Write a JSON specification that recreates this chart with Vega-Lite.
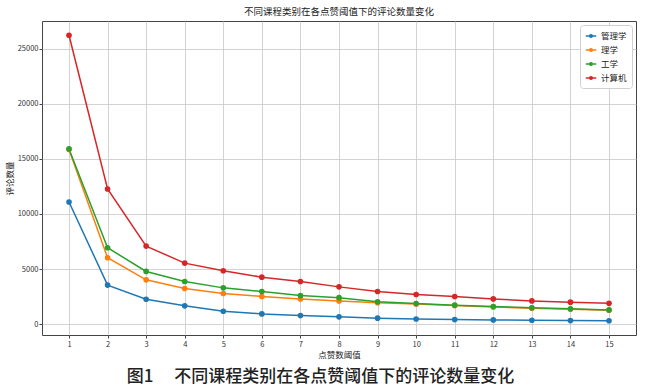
{
  "$schema": "https://vega.github.io/schema/vega-lite/v6.json",
  "padding": {"left": 4, "top": 6, "right": 8, "bottom": 2},
  "background": "white",
  "title": {
    "text": "图1　 不同课程类别在各点赞阈值下的评论数量变化",
    "orient": "bottom",
    "anchor": "middle",
    "font": "Noto Sans CJK SC",
    "fontSize": 17,
    "fontWeight": 500,
    "color": "#222",
    "offset": 9
  },
  "vconcat": [
    {
      "title": {
        "text": "不同课程类别在各点赞阈值下的评论数量变化",
        "font": "Noto Sans CJK SC",
        "fontSize": 9.5,
        "fontWeight": "normal",
        "color": "#222",
        "anchor": "middle",
        "offset": 5
      },
      "width": 594,
      "height": 314,
      "data": {
        "values": [
          {"category": "管理学", "threshold": 1, "count": 11090},
          {"category": "管理学", "threshold": 2, "count": 3550},
          {"category": "管理学", "threshold": 3, "count": 2270},
          {"category": "管理学", "threshold": 4, "count": 1670},
          {"category": "管理学", "threshold": 5, "count": 1180},
          {"category": "管理学", "threshold": 6, "count": 940},
          {"category": "管理学", "threshold": 7, "count": 790},
          {"category": "管理学", "threshold": 8, "count": 670},
          {"category": "管理学", "threshold": 9, "count": 550},
          {"category": "管理学", "threshold": 10, "count": 480},
          {"category": "管理学", "threshold": 11, "count": 420},
          {"category": "管理学", "threshold": 12, "count": 390},
          {"category": "管理学", "threshold": 13, "count": 360},
          {"category": "管理学", "threshold": 14, "count": 330},
          {"category": "管理学", "threshold": 15, "count": 320},
          {"category": "理学", "threshold": 1, "count": 15850},
          {"category": "理学", "threshold": 2, "count": 6030},
          {"category": "理学", "threshold": 3, "count": 4030},
          {"category": "理学", "threshold": 4, "count": 3240},
          {"category": "理学", "threshold": 5, "count": 2790},
          {"category": "理学", "threshold": 6, "count": 2520},
          {"category": "理学", "threshold": 7, "count": 2300},
          {"category": "理学", "threshold": 8, "count": 2120},
          {"category": "理学", "threshold": 9, "count": 1960},
          {"category": "理学", "threshold": 10, "count": 1830},
          {"category": "理学", "threshold": 11, "count": 1690},
          {"category": "理学", "threshold": 12, "count": 1570},
          {"category": "理学", "threshold": 13, "count": 1460},
          {"category": "理学", "threshold": 14, "count": 1360},
          {"category": "理学", "threshold": 15, "count": 1270},
          {"category": "工学", "threshold": 1, "count": 15900},
          {"category": "工学", "threshold": 2, "count": 6940},
          {"category": "工学", "threshold": 3, "count": 4790},
          {"category": "工学", "threshold": 4, "count": 3880},
          {"category": "工学", "threshold": 5, "count": 3300},
          {"category": "工学", "threshold": 6, "count": 2970},
          {"category": "工学", "threshold": 7, "count": 2600},
          {"category": "工学", "threshold": 8, "count": 2410},
          {"category": "工学", "threshold": 9, "count": 2030},
          {"category": "工学", "threshold": 10, "count": 1880},
          {"category": "工学", "threshold": 11, "count": 1730},
          {"category": "工学", "threshold": 12, "count": 1610},
          {"category": "工学", "threshold": 13, "count": 1490},
          {"category": "工学", "threshold": 14, "count": 1400},
          {"category": "工学", "threshold": 15, "count": 1300},
          {"category": "计算机", "threshold": 1, "count": 26210},
          {"category": "计算机", "threshold": 2, "count": 12270},
          {"category": "计算机", "threshold": 3, "count": 7090},
          {"category": "计算机", "threshold": 4, "count": 5545},
          {"category": "计算机", "threshold": 5, "count": 4850},
          {"category": "计算机", "threshold": 6, "count": 4270},
          {"category": "计算机", "threshold": 7, "count": 3880},
          {"category": "计算机", "threshold": 8, "count": 3390},
          {"category": "计算机", "threshold": 9, "count": 2970},
          {"category": "计算机", "threshold": 10, "count": 2700},
          {"category": "计算机", "threshold": 11, "count": 2520},
          {"category": "计算机", "threshold": 12, "count": 2300},
          {"category": "计算机", "threshold": 13, "count": 2120},
          {"category": "计算机", "threshold": 14, "count": 2000},
          {"category": "计算机", "threshold": 15, "count": 1900}
        ]
      },
      "mark": {"type": "line", "strokeWidth": 1.5, "point": {"filled": true, "size": 32}},
      "encoding": {
        "x": {
          "field": "threshold",
          "type": "quantitative",
          "scale": {"domain": [0.3, 15.7], "nice": false, "zero": false},
          "axis": {
            "title": "点赞数阈值",
            "values": [1, 2, 3, 4, 5, 6, 7, 8, 9, 10, 11, 12, 13, 14, 15],
            "format": "d",
            "labelFlush": false,
            "titlePadding": 3
          }
        },
        "y": {
          "field": "count",
          "type": "quantitative",
          "scale": {"domain": [-975, 27505], "nice": false, "zero": false},
          "axis": {
            "title": "评论数量",
            "values": [0, 5000, 10000, 15000, 20000, 25000],
            "format": "d",
            "titlePadding": 3,
            "labelPadding": 1
          }
        },
        "color": {
          "field": "category",
          "type": "nominal",
          "scale": {
            "domain": ["管理学", "理学", "工学", "计算机"],
            "range": ["#1f77b4", "#ff7f0e", "#2ca02c", "#d62728"]
          },
          "legend": {
            "title": null,
            "orient": "top-right",
            "offset": 4,
            "symbolType": "M-1,0H1M0.25,0A0.25,0.25,0,1,1,-0.25,0A0.25,0.25,0,1,1,0.25,0Z",
            "symbolSize": 110,
            "symbolStrokeWidth": 1.5,
            "fillColor": "white",
            "strokeColor": "#d0d0d0",
            "cornerRadius": 3,
            "padding": 5,
            "rowPadding": 3,
            "labelFont": "Noto Sans CJK SC",
            "labelFontSize": 8.5,
            "labelColor": "#222"
          }
        }
      }
    }
  ],
  "config": {
    "view": {"stroke": "#444", "strokeWidth": 1},
    "axis": {
      "domain": false,
      "grid": true,
      "gridColor": "#c8c8c8",
      "gridWidth": 0.8,
      "tickColor": "#444",
      "tickSize": 3,
      "labelPadding": 2,
      "labelFont": "Noto Sans CJK SC",
      "labelFontSize": 7.5,
      "labelColor": "#333",
      "titleFont": "Noto Sans CJK SC",
      "titleFontSize": 8.5,
      "titleFontWeight": "normal",
      "titleColor": "#222"
    }
  }
}
